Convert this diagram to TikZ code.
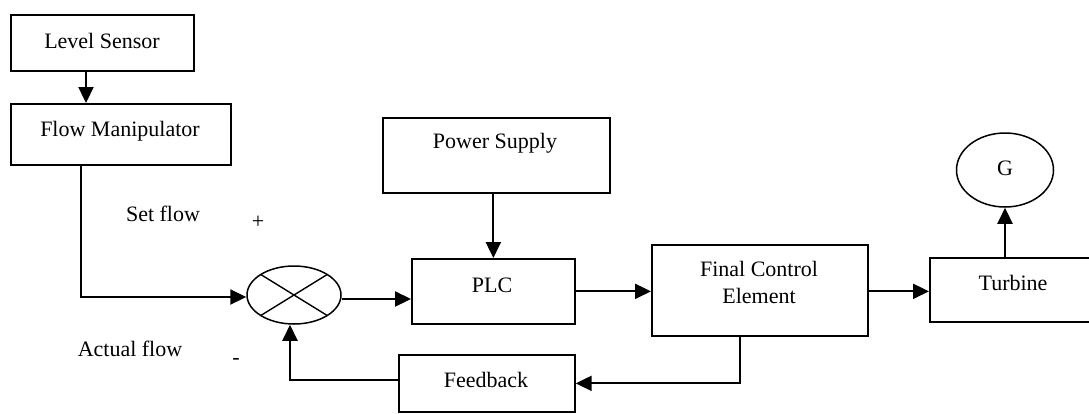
\documentclass[tikz,border=0pt]{standalone}
\usepackage{fontspec}
\setmainfont{Liberation Serif}
\usetikzlibrary{arrows.meta,calc,shapes.geometric}
\begin{document}
\begin{tikzpicture}[x=1pt,y=-1pt,
  box/.style={draw, line width=1.7pt, rectangle, inner sep=0pt, anchor=north west},
  lbl/.style={font=\fontsize{22}{27}\selectfont, inner sep=0pt, align=center},
  arr/.style={line width=2.2pt, -{Triangle[length=16pt,width=15pt]}},
  ln/.style={line width=2.2pt}]
\clip (0,0) rectangle (1089,413);
\fill[white] (0,0) rectangle (1089,413);
% boxes
\node[box, minimum width=183pt, minimum height=56pt] (ls) at (10,14) {};
\node[box, minimum width=220pt, minimum height=61pt] (fm) at (10,103) {};
\node[box, minimum width=227pt, minimum height=75pt] (ps) at (382,117) {};
\node[box, minimum width=163pt, minimum height=65pt] (plc) at (411,258) {};
\node[box, minimum width=216pt, minimum height=91pt] (fce) at (651,244) {};
\node[box, minimum width=170pt, minimum height=64pt] (tb) at (929,257) {};
\node[box, minimum width=176pt, minimum height=57pt] (fb) at (398,354) {};
\node[draw, ellipse, line width=1.5pt, inner sep=0pt, minimum width=94pt, minimum height=58pt] (sum) at (294,295) {};
\node[draw, ellipse, line width=1.5pt, inner sep=0pt, minimum width=97pt, minimum height=74pt] (g) at (1005,170) {};
\draw[line width=1.4pt] ($(sum.center)+(135:47 and 29)$) -- ($(sum.center)+(-45:47 and 29)$);
\draw[line width=1.4pt] ($(sum.center)+(45:47 and 29)$) -- ($(sum.center)+(-135:47 and 29)$);
% texts
\node[lbl] (lsT) at (102,41) {Level Sensor};
\node[lbl] (fmT) at (120,131) {Flow Manipulator};
\node[lbl] (psT) at (495,143) {Power Supply};
\node[lbl] (plcT) at (492,285) {PLC};
\node[lbl] (fceT) at (759,282.5) {Final Control\\Element};
\node[lbl] (tbT) at (1013,283) {Turbine};
\node[lbl] (fbT) at (486,380) {Feedback};
\node[lbl] (gT) at (1005,168) {G};
\node[lbl] (setT) at (163,214) {Set flow};
\node[lbl] (actT) at (130,349) {Actual flow};
\node[lbl] (plusT) at (258,222) {+};
\node[lbl] (minusT) at (236,361) {-};
% connectors
\coordinate (lsx) at (86,0);
\coordinate (fmx) at (81,0);
\coordinate (fcx) at (740,0);
\coordinate (gx) at (1005,0);
\draw[arr] (ls.south -| lsx) -- (fm.north -| lsx);
\draw[arr] (fm.south -| fmx) |- ($(sum.west)+(0,2)$);
\draw[arr] ($(sum.east)+(0,4)$) -- ($(sum.east -| plc.west)+(0,4)$);
\draw[arr] (ps.south -| plc.north) -- (plc.north);
\draw[arr] (plc.east) -- (plc.east -| fce.west);
\draw[arr] ($(fce.east)+(0,1)$) -- ($(fce.east -| tb.west)+(0,1)$);
\draw[arr] (tb.north -| gx) -- (g.south);
\draw[arr] (fce.south -| fcx) |- (fb.east);
\draw[arr] ($(fb.west)+(0,-3)$) -| ($(sum.south)+(-4,0)$);
\end{tikzpicture}
\end{document}
